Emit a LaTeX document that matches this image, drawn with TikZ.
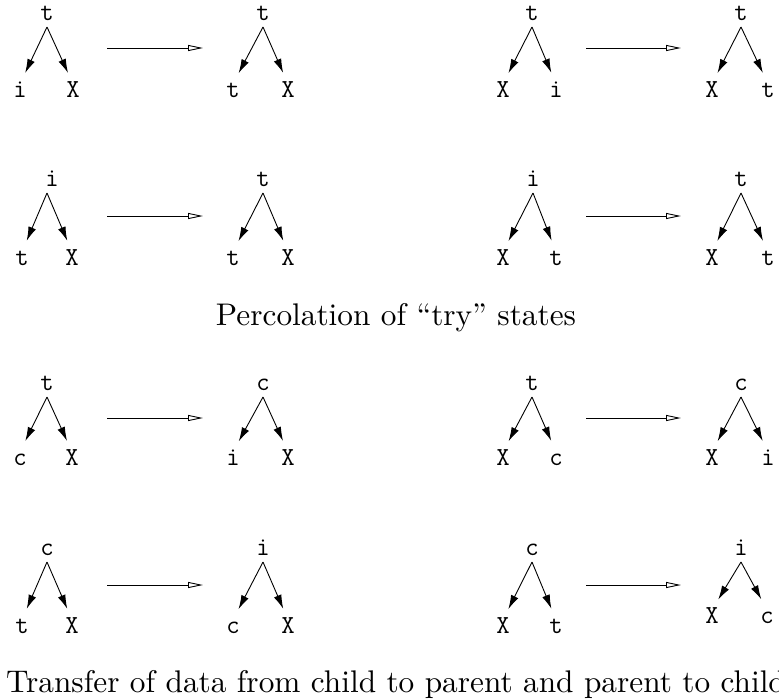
\documentclass[tikz,border=0pt]{standalone}
\usepackage{fontspec}
\usetikzlibrary{arrows.meta}
\tikzset{
  lab/.style={anchor=base, inner sep=0pt, text height=13pt, text depth=0pt, font=\ttfamily\fontsize{26}{26}\selectfont},
  edge/.style={line width=0.9pt, -{Latex[length=14pt,width=8pt]}, shorten >=12pt},
  trans/.style={line width=0.9pt, -{Triangle[open,length=15pt,width=6pt]}},
  captext/.style={inner sep=0pt, font=\fontsize{10}{12}\selectfont, scale=3.13},
}
\newcommand\drawtree[9]{%
  \node[lab] (#1r) at (#2,#3) {#4};
  \node[lab] (#1l) at (#5,#9) {#6};
  \node[lab] (#1x) at (#7,#9) {#8};
  \draw[edge] ([yshift=-7pt]#1r.base) -- (#1l.north);
  \draw[edge] ([yshift=-7pt]#1r.base) -- (#1x.north);
}
\begin{document}
\begin{tikzpicture}[x=1pt,y=-1pt]
\useasboundingbox (0,0) rectangle (779,699);
% Row 1
\drawtree{aa}{47}{20}{t}{20}{i}{73}{X}{97}
\drawtree{ab}{263}{20}{t}{233}{t}{288}{X}{97}
\drawtree{ac}{532}{20}{t}{503}{X}{556}{i}{97}
\drawtree{ad}{741}{20}{t}{712}{X}{768}{t}{97}
\coordinate (p1s) at (107,48); \coordinate (p1e) at (203,48);
\coordinate (q1s) at (586,48); \coordinate (q1e) at (681,48);
\draw[trans] (p1s) -- (p1e);
\draw[trans] (q1s) -- (q1e);
% Row 2
\node[lab] (bar) at (52,186) {i};
\node[lab] (bal) at (22,265) {t};
\node[lab] (bax) at (72,265) {X};
\draw[edge] ([xshift=-5pt,yshift=-7pt]bar.base) -- (bal.north);
\draw[edge] ([xshift=-5pt,yshift=-7pt]bar.base) -- (bax.north);
\drawtree{bb}{263}{186}{t}{233}{t}{288}{X}{265}
\drawtree{bc}{533}{186}{i}{503}{X}{556}{t}{265}
\drawtree{bd}{741}{186}{t}{712}{X}{768}{t}{265}
\coordinate (p2s) at (107,216); \coordinate (p2e) at (203,216);
\coordinate (q2s) at (586,216); \coordinate (q2e) at (681,216);
\draw[trans] (p2s) -- (p2e);
\draw[trans] (q2s) -- (q2e);
\node[captext, anchor=base] (cap1) at (396,325) {Percolation of ``try'' states};
% Row 3
\drawtree{ca}{47}{390}{t}{20}{c}{72}{X}{465}
\drawtree{cb}{263}{390}{c}{233}{i}{288}{X}{465}
\drawtree{cc}{532}{390}{t}{503}{X}{556}{c}{465}
\drawtree{cd}{741}{390}{c}{712}{X}{768}{i}{465}
\coordinate (p3s) at (107,418); \coordinate (p3e) at (203,418);
\coordinate (q3s) at (586,418); \coordinate (q3e) at (681,418);
\draw[trans] (p3s) -- (p3e);
\draw[trans] (q3s) -- (q3e);
% Row 4
\drawtree{da}{47}{555}{c}{22}{t}{72}{X}{633}
\drawtree{db}{263}{555}{i}{233}{c}{288}{X}{633}
\drawtree{dc}{532}{555}{c}{503}{X}{556}{t}{633}
\drawtree{dd}{741}{555}{i}{712}{X}{767}{c}{623}
\coordinate (p4s) at (107,585); \coordinate (p4e) at (203,585);
\coordinate (q4s) at (586,585); \coordinate (q4e) at (681,585);
\draw[trans] (p4s) -- (p4e);
\draw[trans] (q4s) -- (q4e);
\node[captext, anchor=base] (cap2) at (396,692) {Transfer of data from child to parent and parent to child};
\end{tikzpicture}
\end{document}
